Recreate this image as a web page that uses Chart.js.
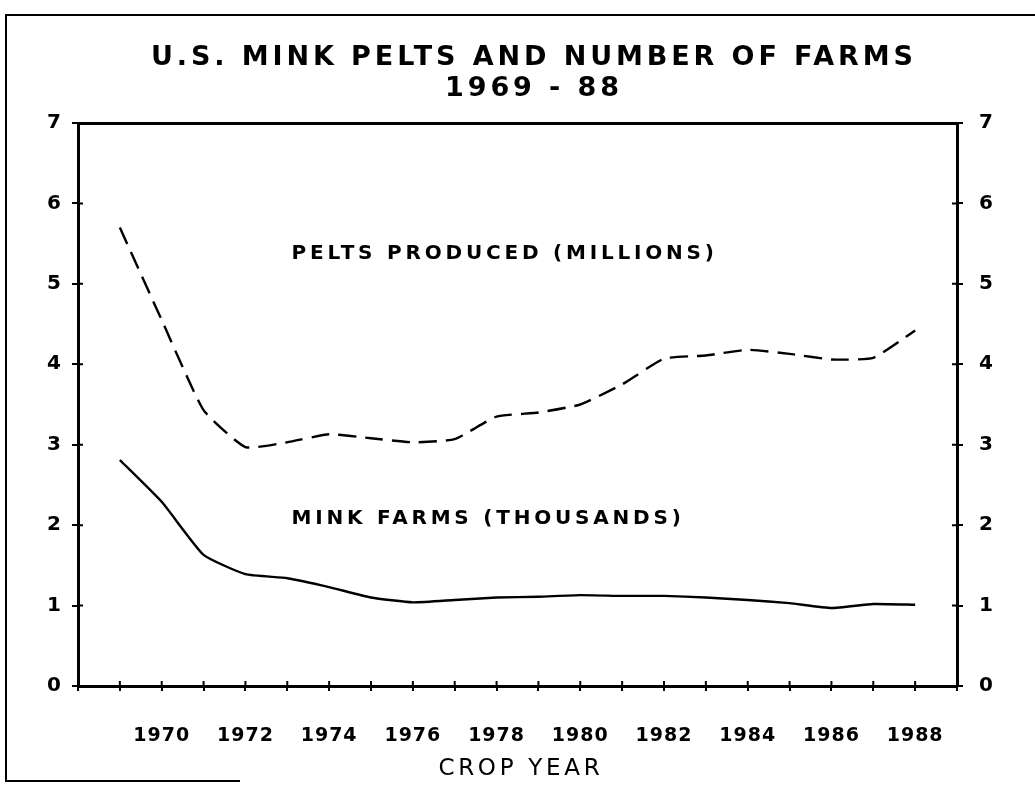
<!DOCTYPE html>
<html>
<head>
<meta charset="utf-8">
<script src="https://cdn.jsdelivr.net/npm/chart.js@4.4.1/dist/chart.umd.min.js"></script>
<style>
  html, body { margin: 0; padding: 0; background: #ffffff; }
  #wrap { position: relative; width: 1035px; height: 785px; }
  canvas { display: block; }
</style>
</head>
<body>
<div id="wrap"><canvas id="c" width="1035" height="785"></canvas></div>
<script>
// ---- Data ----
const years = [1969, 1970, 1971, 1972, 1973, 1974, 1975, 1976, 1977, 1978,
               1979, 1980, 1981, 1982, 1983, 1984, 1985, 1986, 1987, 1988];
const peltsMillions = [5.70, 4.55, 3.43, 2.97, 3.03, 3.13, 3.08, 3.03, 3.07, 3.35,
                       3.40, 3.50, 3.75, 4.07, 4.11, 4.18, 4.13, 4.06, 4.08, 4.42];
const farmsThousands = [2.81, 2.29, 1.63, 1.39, 1.34, 1.23, 1.10, 1.04, 1.07, 1.10,
                        1.11, 1.13, 1.12, 1.12, 1.10, 1.07, 1.03, 0.97, 1.02, 1.01];
const xTickLabels = ['1970', '1972', '1974', '1976', '1978', '1980', '1982', '1984', '1986', '1988'];
const yTickLabels = ['0', '1', '2', '3', '4', '5', '6', '7'];
const titleLines = ['U.S. MINK PELTS AND NUMBER OF FARMS', '1969 - 88'];
const xAxisTitle = 'CROP YEAR';
const seriesLabels = ['PELTS PRODUCED (MILLIONS)', 'MINK FARMS (THOUSANDS)'];
// label anchors in data units (year, value)
const seriesLabelAnchors = [[1973.1, 5.40], [1973.1, 2.10]];

const FONT = '"DejaVu Sans", "Liberation Sans", sans-serif';

function spacedText(ctx, text, x, y, spacing, align) {
  ctx.letterSpacing = spacing + 'px';
  const w = ctx.measureText(text).width - spacing;
  let sx = x;
  if (align === 'center') sx = x - w / 2;
  else if (align === 'right') sx = x - w;
  ctx.textAlign = 'left';
  ctx.fillText(text, sx, y);
  ctx.letterSpacing = '0px';
}

const decor = {
  id: 'decor',
  beforeDraw(chart) {
    chart.ctx.letterSpacing = '1px';
  },
  afterDraw(chart) {
    const ctx = chart.ctx;
    const area = chart.chartArea;
    const xs = chart.scales.x, yl = chart.scales.y, yr = chart.scales.y2;
    ctx.save();
    ctx.fillStyle = '#000';
    ctx.strokeStyle = '#000';
    ctx.textBaseline = 'alphabetic';

    // title
    ctx.font = 'bold 27px ' + FONT;
    spacedText(ctx, titleLines[0], 532, 65, 3.9, 'center');
    spacedText(ctx, titleLines[1], 532, 96, 3.9, 'center');

    // series labels
    ctx.font = 'bold 20px ' + FONT;
    seriesLabels.forEach((t, i) => {
      const a = seriesLabelAnchors[i];
      spacedText(ctx, t, xs.getPixelForValue(a[0]), yl.getPixelForValue(a[1]) + 7, 3.8, 'left');
    });

    // x axis title
    ctx.font = 'normal 23px ' + FONT;
    spacedText(ctx, xAxisTitle, 519, 775, 3.7, 'center');

    // inner half of the tick marks (ticks cross the axis lines)
    ctx.lineWidth = 2;
    ctx.beginPath();
    xs.ticks.forEach(t => {
      const px = xs.getPixelForValue(t.value);
      ctx.moveTo(px, area.bottom);
      ctx.lineTo(px, area.bottom - 5);
    });
    yl.ticks.forEach(t => {
      const py = yl.getPixelForValue(t.value);
      ctx.moveTo(area.left, py);
      ctx.lineTo(area.left + 5, py);
    });
    yr.ticks.forEach(t => {
      const py = yr.getPixelForValue(t.value);
      ctx.moveTo(area.right, py);
      ctx.lineTo(area.right - 5, py);
    });
    ctx.stroke();

    // scanned page frame
    ctx.lineWidth = 2;
    ctx.beginPath();
    ctx.moveTo(1035, 15);
    ctx.lineTo(6, 15);
    ctx.lineTo(6, 781);
    ctx.lineTo(240, 781);
    ctx.stroke();
    ctx.restore();
  }
};

const tickFont = { family: FONT, size: 20, weight: 'bold' };

new Chart(document.getElementById('c'), {
  type: 'line',
  data: {
    datasets: [
      {
        label: seriesLabels[0],
        data: years.map((y, i) => ({ x: y, y: peltsMillions[i] })),
        borderColor: '#000',
        borderWidth: 2.4,
        borderDash: [18, 9],
        pointRadius: 0,
        tension: 0.15,
        yAxisID: 'y'
      },
      {
        label: seriesLabels[1],
        data: years.map((y, i) => ({ x: y, y: farmsThousands[i] })),
        borderColor: '#000',
        borderWidth: 2.4,
        pointRadius: 0,
        tension: 0.15,
        yAxisID: 'y'
      }
    ]
  },
  options: {
    responsive: false,
    animation: false,
    events: [],
    layout: { padding: { top: 123, left: 0, right: 0, bottom: 0 } },
    plugins: { legend: { display: false }, tooltip: { enabled: false }, title: { display: false } },
    scales: {
      x: {
        type: 'linear',
        position: 'bottom',
        min: 1968,
        max: 1989,
        afterFit(s) { s.height = 99; },
        afterBuildTicks(s) {
          s.ticks = [];
          for (let v = 1968; v <= 1989; v++) s.ticks.push({ value: v });
        },
        ticks: {
          autoSkip: false,
          maxRotation: 0,
          color: '#000',
          font: { family: FONT, size: 19, weight: 'bold' },
          padding: 34,
          callback: (v) => xTickLabels.includes(String(v)) ? String(v) : ''
        },
        grid: { drawOnChartArea: false, color: '#000', lineWidth: 2, tickLength: 5 },
        border: { display: true, color: '#000', width: 3 }
      },
      xTop: {
        type: 'linear',
        position: 'top',
        min: 1968,
        max: 1989,
        afterFit(s) { s.height = 0; },
        ticks: { display: false },
        grid: { display: false, drawTicks: false },
        border: { display: true, color: '#000', width: 3 }
      },
      y: {
        position: 'left',
        min: 0,
        max: 7,
        afterFit(s) { s.width = 78; },
        afterBuildTicks(s) { s.ticks = yTickLabels.map(v => ({ value: Number(v) })); },
        ticks: { color: '#000', font: tickFont, padding: 10, callback: (v) => String(v) },
        grid: { drawOnChartArea: false, color: '#000', lineWidth: 2, tickLength: 6 },
        border: { display: true, color: '#000', width: 3 }
      },
      y2: {
        position: 'right',
        min: 0,
        max: 7,
        afterFit(s) { s.width = 78; },
        afterBuildTicks(s) { s.ticks = yTickLabels.map(v => ({ value: Number(v) })); },
        ticks: { color: '#000', font: tickFont, padding: 16, callback: (v) => String(v) },
        grid: { drawOnChartArea: false, color: '#000', lineWidth: 2, tickLength: 6 },
        border: { display: true, color: '#000', width: 3 }
      }
    }
  },
  plugins: [decor]
});
</script>
</body>
</html>
